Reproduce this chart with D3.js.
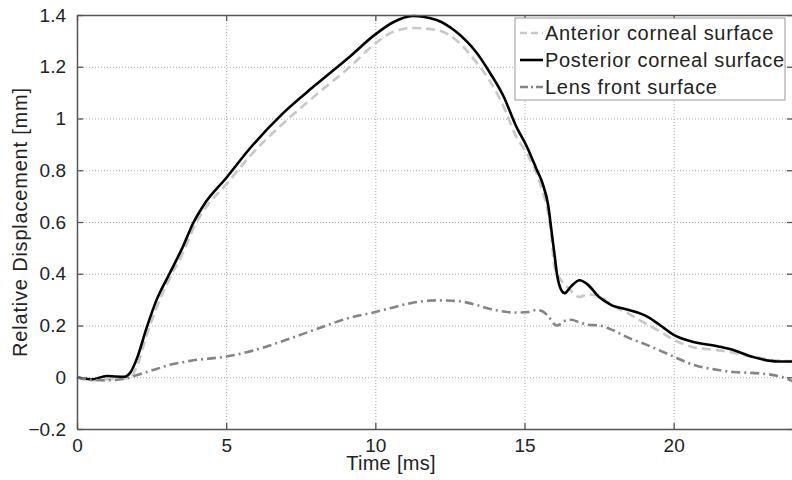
<!DOCTYPE html>
<html>
<head>
<meta charset="utf-8">
<script src="https://cdn.jsdelivr.net/npm/d3@7"></script>
<style>
  body { margin: 0; background: #fff; }
  text { font-family: "Liberation Sans", Arial, Helvetica, sans-serif; fill: #222; }
</style>
</head>
<body>
<div id="chart"></div>
<script>
var margin = { top: 15, right: 0, bottom: 51, left: 77 },
    width = 792,
    height = 480;
var innerWidth = 716,
    innerHeight = height - margin.top - margin.bottom;

// time samples [ms]
var times = [0, 0.5, 1, 1.3, 1.6, 1.8, 2, 2.33, 2.67, 3.1, 3.55, 3.9, 4.25, 5, 5.8, 6.9, 8, 9.15, 10, 10.6,
  11.25, 12.05, 12.7, 13.4, 13.85, 14.3, 14.7, 15.1, 15.4, 15.6, 15.8, 15.9, 16, 16.1, 16.23, 16.35,
  16.55, 16.85, 17.1, 17.5, 17.9, 18.5, 19.1, 19.5, 20, 20.6, 21.5, 22, 22.6, 23.5, 24];

var anterior = [0, -0.012, -0.008, -0.005, -0.005, 0, 0.04, 0.16, 0.27, 0.38, 0.48, 0.575, 0.645, 0.745, 0.855, 0.98, 1.09, 1.2, 1.29, 1.335,
  1.35, 1.342, 1.304, 1.215, 1.143, 1.046, 0.935, 0.86, 0.79, 0.72, 0.63, 0.55, 0.43, 0.4, 0.375, 0.36,
  0.335, 0.31, 0.32, 0.315, 0.28, 0.245, 0.205, 0.18, 0.145, 0.118, 0.104, 0.095, 0.08, 0.065, 0.062];

var posterior = [0, -0.008, 0.005, 0.003, 0.002, 0.02, 0.07, 0.19, 0.3, 0.4, 0.505, 0.597, 0.666, 0.77, 0.885, 1.02, 1.13, 1.24, 1.325, 1.372,
  1.396, 1.381, 1.336, 1.253, 1.175, 1.085, 0.975, 0.886, 0.805, 0.751, 0.66, 0.57, 0.48, 0.39, 0.338, 0.325,
  0.35, 0.375, 0.36, 0.31, 0.28, 0.26, 0.235, 0.205, 0.164, 0.138, 0.119, 0.105, 0.08, 0.061, 0.061];

var lens = [0, -0.01, -0.012, -0.01, -0.006, 0, 0.008, 0.02, 0.032, 0.048, 0.058, 0.066, 0.07, 0.08, 0.1, 0.14, 0.185, 0.23, 0.252, 0.27,
  0.288, 0.297, 0.295, 0.279, 0.264, 0.254, 0.25, 0.252, 0.26, 0.255, 0.235, 0.22, 0.205, 0.2, 0.208, 0.218,
  0.222, 0.212, 0.203, 0.2, 0.185, 0.152, 0.125, 0.105, 0.08, 0.05, 0.028, 0.02, 0.017, 0.005, -0.016];

var xTicks = [0, 5, 10, 15, 20];
var yTicks = [-0.2, 0, 0.2, 0.4, 0.6, 0.8, 1, 1.2, 1.4];
var seriesNames = ["Anterior corneal surface", "Posterior corneal surface", "Lens front surface"];
var seriesData = [anterior, posterior, lens];
var colors = ["#c8c8c8", "#000000", "#858585"];
var dashes = ["9,5", null, "9,4,2,4"];

var svg = d3.select("#chart")
    .append("svg")
    .attr("width", width)
    .attr("height", height)
    .append("g")
    .attr("transform", "translate(" + margin.left + "," + margin.top + ")");

var x = d3.scaleLinear().domain([0, 24]).range([0, innerWidth]);
var y = d3.scaleLinear().domain([-0.2, 1.4]).range([innerHeight, 0]);

// grid
svg.append("g")
    .attr("class", "grid")
    .attr("transform", "translate(0," + innerHeight + ")")
    .call(d3.axisBottom(x).tickValues(xTicks.slice(1)).tickSize(-innerHeight).tickFormat(""));
svg.append("g")
    .attr("class", "grid")
    .call(d3.axisLeft(y).tickValues(yTicks.slice(1, -1)).tickSize(-innerWidth).tickFormat(""));
svg.selectAll(".grid .domain").remove();
svg.selectAll(".grid line")
    .attr("stroke", "#aaa")
    .attr("stroke-width", 1)
    .attr("stroke-dasharray", "1,2");

// lines
var line = d3.line()
    .x(function (d) { return x(d[0]); })
    .y(function (d) { return y(d[1]); })
    .curve(d3.curveMonotoneX);

seriesData.forEach(function (vals, i) {
    svg.append("path")
        .datum(times.map(function (t, j) { return [t, vals[j]]; }))
        .attr("fill", "none")
        .attr("stroke", colors[i])
        .attr("stroke-width", 2.6)
        .attr("stroke-dasharray", dashes[i])
        .attr("d", line);
});

// axes with inward ticks
var xAxis = d3.axisBottom(x).tickValues(xTicks).tickSizeInner(-6).tickSizeOuter(0).tickPadding(10);
var yAxis = d3.axisLeft(y).tickValues(yTicks).tickSizeInner(-6).tickSizeOuter(0).tickPadding(11)
    .tickFormat(function (d) { return d3.format("")(Math.round(d * 10) / 10); });

var gx = svg.append("g").attr("transform", "translate(0," + innerHeight + ")").call(xAxis);
var gy = svg.append("g").call(yAxis);
svg.append("g").call(d3.axisTop(x).tickValues(xTicks).tickSizeInner(-6).tickSizeOuter(0).tickFormat(""));
svg.append("g").attr("transform", "translate(" + innerWidth + ",0)")
    .call(d3.axisRight(y).tickValues(yTicks).tickSizeInner(-6).tickSizeOuter(0).tickFormat(""));

svg.selectAll(".domain").attr("stroke", "#555").attr("stroke-width", 1.5);
svg.selectAll(".tick line").filter(function () { return !this.parentNode.parentNode.classList.contains("grid"); })
    .attr("stroke", "#555").attr("stroke-width", 1.3);
gx.selectAll("text").style("font-size", "19px").attr("dy", "0.71em");
gy.selectAll("text").style("font-size", "19px");

// axis titles
svg.append("text")
    .attr("x", 314)
    .attr("y", 455)
    .attr("text-anchor", "middle")
    .style("font-size", "20px")
    .style("letter-spacing", "0.3px")
    .text("Time [ms]");

svg.append("text")
    .attr("transform", "translate(-50," + innerHeight / 2 + ") rotate(-90)")
    .attr("text-anchor", "middle")
    .style("font-size", "20px")
    .style("letter-spacing", "0.8px")
    .text("Relative Displacement [mm]");

// legend
var legend = svg.append("g").attr("transform", "translate(438,3)");
legend.append("rect")
    .attr("width", 270)
    .attr("height", 82)
    .attr("fill", "#fff")
    .attr("stroke", "#999")
    .attr("stroke-width", 1);

seriesNames.forEach(function (name, i) {
    var ly = 15 + i * 27;
    legend.append("line")
        .attr("x1", 5).attr("x2", 28)
        .attr("y1", ly).attr("y2", ly)
        .attr("stroke", colors[i])
        .attr("stroke-width", 2.6)
        .attr("stroke-dasharray", dashes[i] ? (i === 0 ? "7,4" : "8,3,2,3") : null);
    legend.append("text")
        .attr("x", 30)
        .attr("y", ly)
        .attr("dy", "0.35em")
        .style("font-size", "20px")
        .style("letter-spacing", "0.7px")
        .text(name);
});
</script>
</body>
</html>
